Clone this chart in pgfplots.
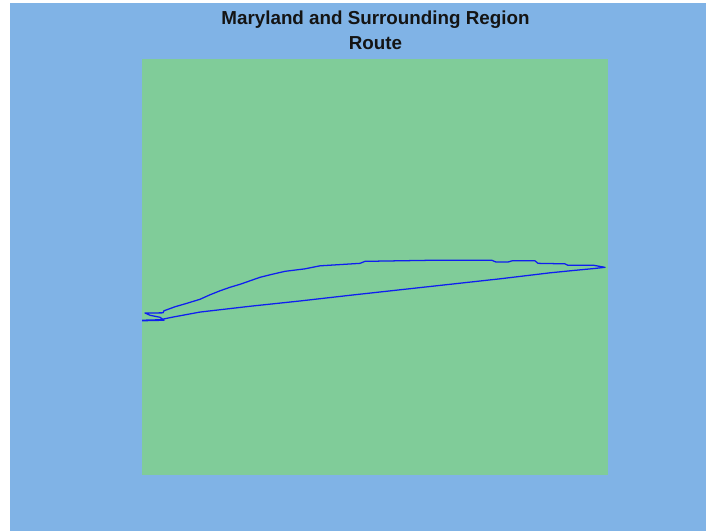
\documentclass[border=0pt]{standalone}
\usepackage{pgfplots}
\pgfplotsset{compat=1.18}
\usepackage{fontspec}
\setmainfont{Liberation Sans}
\definecolor{figbg}{RGB}{128,179,230}
\definecolor{mapland}{RGB}{128,204,153}
\definecolor{route}{RGB}{15,30,240}
% route, pixel positions used as map coordinates
\pgfplotstableread{
x y
142 320.5
164 320
160 317
150 315
145 312.7
163 312.6
164 310.5
175 306.5
187 303
200 299
210 294.5
220 290.5
230 287
240 284
250 280.5
260 277
272 274
285 271
305 268.5
320 265.5
360 263
365 261
427 260
492 260
496 261.7
508 261.7
512 260.5
535 260.5
538 263
565 263.5
568 265
594 265
605 267
594 268.2
575 270
550 272.5
500 278.5
450 284
400 289.5
350 295
300 300.7
250 306
200 311.8
172 317
160 319.5
142 320
}\routetable
\begin{document}
\begin{tikzpicture}[x=0.75pt,y=0.75pt]
\path[use as bounding box] (0,0) rectangle (706,531);
\fill[figbg] (10,0) rectangle (706,528);
\begin{axis}[
  at={(142pt*0.75,56pt*0.75)},
  anchor=south west,
  scale only axis,
  width=349.5pt,
  height=312.25pt,
  xmin=142, xmax=608,
  ymin=58, ymax=475,
  y dir=reverse,
  axis background/.style={fill=mapland},
  axis line style={draw=none},
  ticks=none,
  clip=true,
]
\addplot[route, line width=0.95pt, line join=round] table[x=x,y=y] {\routetable};
\end{axis}
\node[font=\bfseries\fontsize{14.1}{16}\selectfont, anchor=base, text=black!92] at (375.5,506) {Maryland and Surrounding Region};
\node[font=\bfseries\fontsize{14.1}{16}\selectfont, anchor=base, text=black!92] at (375.5,481) {Route};
\end{tikzpicture}
\end{document}
